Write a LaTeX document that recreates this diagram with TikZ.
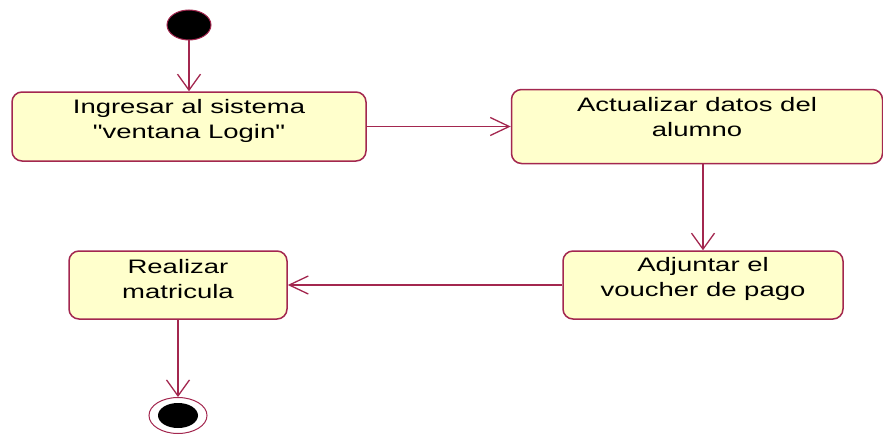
\documentclass[tikz,border=0pt]{standalone}
\usepackage{fontspec}
\setmainfont{Liberation Sans}[FakeStretch=1.41, Ligatures=TeXOff]
\usetikzlibrary{arrows.meta,shapes.geometric}
\definecolor{linecol}{HTML}{A3274F}
\definecolor{boxfill}{HTML}{FFFFCC}
\tikzset{
  actbox/.style={draw=linecol, fill=boxfill, line width=1.5pt, rounded corners=10pt, inner sep=0pt},
  acttext/.style={align=center, inner sep=0pt, font=\fontsize{19.5}{25}\selectfont, text=black},
  flow/.style={draw=linecol, line width=1.5pt},
  vtip/.style={-{Straight Barb[length=16pt,width=23pt,line width=1.3pt]}},
  htip/.style={-{Straight Barb[length=19pt,width=18pt,line width=1.3pt]}}
}
\begin{document}
\begin{tikzpicture}[x=1pt,y=-1pt]
\useasboundingbox (0,0) rectangle (883,436);
% start
\node[ellipse, draw=linecol, fill=black, line width=1pt, minimum width=44pt, minimum height=30pt, inner sep=0pt] (start) at (189,25) {};
% activities
\node[actbox, minimum width=354pt, minimum height=69pt] (b1) at (189,126.5) {};
\node[acttext] (t1) at ([yshift=6pt]b1.center) {Ingresar al sistema\\"ventana Login"};
\node[actbox, minimum width=371pt, minimum height=74pt] (b2) at (697,126.5) {};
\node[acttext] (t2) at ([yshift=9pt]b2.center) {Actualizar datos del\\alumno};
\node[actbox, minimum width=280pt, minimum height=68pt] (b3) at (703,285) {};
\node[acttext] (t3) at ([yshift=6pt]b3.center) {Adjuntar el\\voucher de pago};
\node[actbox, minimum width=218pt, minimum height=68pt] (b4) at (178,285) {};
\node[acttext] (t4) at ([yshift=6pt]b4.center) {Realizar\\matricula};
% end
\node[ellipse, draw=linecol, fill=white, line width=1pt, minimum width=58pt, minimum height=36pt, inner sep=0pt] (endo) at (178,415.5) {};
\node[ellipse, fill=black, minimum width=40pt, minimum height=25pt, inner sep=0pt] (endi) at (endo.center) {};
% flows
\draw[flow, vtip] (start.south) -- (b1.north);
\draw[flow, htip] (b1.east) -- (b2.west);
\draw[flow, vtip] (b2.south -| b3.north) -- (b3.north);
\draw[flow, htip] (b3.west) -- (b4.east);
\draw[flow, vtip] (b4.south) -- (endo.north);
\end{tikzpicture}
\end{document}
